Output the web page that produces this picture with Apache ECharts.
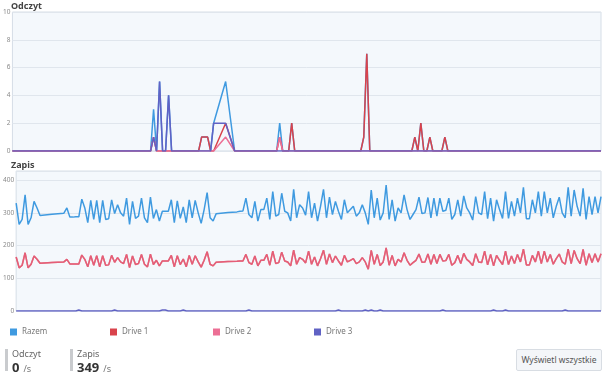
<!DOCTYPE html>
<html>
<head>
<meta charset="utf-8">
<script src="https://cdn.jsdelivr.net/npm/echarts@6/dist/echarts.min.js"></script>
<style>
  html, body { margin: 0; padding: 0; background: #fff; }
  body { width: 605px; height: 376px; position: relative; overflow: hidden; font-family: 'Noto Sans', sans-serif; }
  #chart { position: absolute; left: 0; top: 0; width: 605px; height: 376px; }
  .bar { position: absolute; top: 349px; width: 3px; height: 22px; background: #c9cbce; }
  .lbl { position: absolute; top: 347px; font-size: 9px; color: #666; }
  .val { position: absolute; top: 358px; font-size: 13px; font-weight: bold; color: #333; white-space: nowrap; }
  .val span { font-size: 9px; font-weight: normal; color: #777; margin-left: 4px; }
  .btn { position: absolute; left: 516px; top: 349px; width: 84px; height: 20px; border: 1px solid #d8dde3; border-radius: 2px;
         background: #f4f6f9; font-size: 8.5px; color: #555; text-align: center; line-height: 20px; }
</style>
</head>
<body>
<div id="chart"></div>
<div class="bar" style="left:5px"></div>
<div class="lbl" style="left:12px">Odczyt</div>
<div class="val" style="left:12px">0<span>/s</span></div>
<div class="bar" style="left:70px"></div>
<div class="lbl" style="left:77px">Zapis</div>
<div class="val" style="left:77px">349<span>/s</span></div>
<div class="btn">Wyświetl wszystkie</div>
<script>
// Odczyt / Zapis na dysk (Razem + Drive 1..3)
// null = brak próbki (linia łączona przez connectNulls)

const nazwySerii = ['Razem', 'Drive 1', 'Drive 2', 'Drive 3'];
const kolory = ['#3f9ae0', '#d9434c', '#ec6f95', '#6062c4'];

// odczyt
const razemOdczyt = [
  0,0,0,0,0,0,0,0,0,null, null,null,0,null,null,null,0,0,0,0,
  0,0,0,0,0,0,0,0,0,0, 0,0,0,0,0,0,0,0,0,0,
  0,0,0,0,0,0,0,3,0,5, 0,0,4,0,0,0,0,0,0,0,
  0,0,0,1,1,1,0,2,null,null, null,5,null,null,0,0,0,0,0,0,
  0,0,0,0,0,0,0,0,0,2, 0,0,0,2,0,0,0,0,0,0,
  0,0,0,0,0,0,0,0,0,0, 0,0,0,0,0,0,0,1,7,0,
  0,0,0,0,0,0,0,0,0,0, 0,0,0,0,1,0,2,0,0,1,
  0,0,0,0,1,0,0,0,0,0, 0,0,0,0,0,0,0,0,0,0,
  0,0,0,0,0,0,0,0,0,0, 0,0,0,0,0,0,0,0,0,0,
  0,0,0,0,0,0,0,0,0,0, 0,0,0,0,0,0,0
];
const drive1Odczyt = [
  0,0,0,0,0,0,0,0,0,null, null,null,0,null,null,null,0,0,0,0,
  0,0,0,0,0,0,0,0,0,0, 0,0,0,0,0,0,0,0,0,0,
  0,0,0,0,0,0,0,1,0,0, 0,0,0,0,0,0,0,0,0,0,
  0,0,0,1,1,1,0,0,null,null, null,2,null,null,0,0,0,0,0,0,
  0,0,0,0,0,0,0,0,0,1, 0,0,0,2,0,0,0,0,0,0,
  0,0,0,0,0,0,0,0,0,0, 0,0,0,0,0,0,0,1,7,0,
  0,0,0,0,0,0,0,0,0,0, 0,0,0,0,1,0,2,0,0,1,
  0,0,0,0,1,0,0,0,0,0, 0,0,0,0,0,0,0,0,0,0,
  0,0,0,0,0,0,0,0,0,0, 0,0,0,0,0,0,0,0,0,0,
  0,0,0,0,0,0,0,0,0,0, 0,0,0,0,0,0,0
];
const drive2Odczyt = [
  0,0,0,0,0,0,0,0,0,null, null,null,0,null,null,null,0,0,0,0,
  0,0,0,0,0,0,0,0,0,0, 0,0,0,0,0,0,0,0,0,0,
  0,0,0,0,0,0,0,1,0,0, 0,0,0,0,0,0,0,0,0,0,
  0,0,0,0,0,0,0,0,null,null, null,1,null,null,0,0,0,0,0,0,
  0,0,0,0,0,0,0,0,0,1, 0,0,0,0,0,0,0,0,0,0,
  0,0,0,0,0,0,0,0,0,0, 0,0,0,0,0,0,0,0,0,0,
  0,0,0,0,0,0,0,0,0,0, 0,0,0,0,0,0,0,0,0,0,
  0,0,0,0,0,0,0,0,0,0, 0,0,0,0,0,0,0,0,0,0,
  0,0,0,0,0,0,0,0,0,0, 0,0,0,0,0,0,0,0,0,0,
  0,0,0,0,0,0,0,0,0,0, 0,0,0,0,0,0,0
];
const drive3Odczyt = [
  0,0,0,0,0,0,0,0,0,null, null,null,0,null,null,null,0,0,0,0,
  0,0,0,0,0,0,0,0,0,0, 0,0,0,0,0,0,0,0,0,0,
  0,0,0,0,0,0,0,1,0,5, 0,0,4,0,0,0,0,0,0,0,
  0,0,0,0,0,0,0,2,null,null, null,2,null,null,0,0,0,0,0,0,
  0,0,0,0,0,0,0,0,0,0, 0,0,0,0,0,0,0,0,0,0,
  0,0,0,0,0,0,0,0,0,0, 0,0,0,0,0,0,0,0,0,0,
  0,0,0,0,0,0,0,0,0,0, 0,0,0,0,0,0,0,0,0,0,
  0,0,0,0,0,0,0,0,0,0, 0,0,0,0,0,0,0,0,0,0,
  0,0,0,0,0,0,0,0,0,0, 0,0,0,0,0,0,0,0,0,0,
  0,0,0,0,0,0,0,0,0,0, 0,0,0,0,0,0,0
];

// zapis
const razemZapis = [
  330,265,280,355,265,285,335,315,292,null, null,null,296,null,null,null,299,315,287,287,
  288,288,342,315,270,338,280,338,270,338, 280,282,340,298,325,300,290,345,265,335,
  283,290,345,285,270,348,283,310,275,305, 305,305,340,270,337,283,318,270,340,285,
  338,300,268,310,362,285,275,297,null,null, null,301,null,null,303,305,306,345,295,285,
  335,275,310,310,345,280,365,290,295,360, 305,300,275,372,285,325,315,293,365,285,
  330,275,320,372,285,348,295,335,305,280, 340,300,310,320,290,300,325,300,265,370,
  285,345,278,300,385,280,340,275,315,300, 355,310,280,295,310,348,298,300,347,285,
  345,290,345,305,308,345,280,295,340,290, 352,315,300,278,350,300,295,365,282,345,
  275,340,310,283,365,283,335,290,345,300, 378,282,282,340,300,365,290,365,300,345,
  285,320,348,300,285,378,290,370,320,290, 375,280,350,295,350,300,350
];
const drive1Zapis = [
  165,132,140,178,132,143,168,158,146,null, null,null,148,null,null,null,150,158,144,144,
  144,144,171,158,135,169,140,169,135,169, 140,141,170,149,163,150,145,173,133,168,
  142,145,173,143,135,174,142,155,138,153, 153,153,170,135,169,142,159,135,170,143,
  169,150,134,155,181,143,138,149,null,null, null,151,null,null,152,153,153,173,148,143,
  168,138,155,155,173,140,183,145,148,180, 153,150,138,186,143,163,158,147,183,143,
  165,138,160,186,143,174,148,168,153,140, 170,150,155,160,145,150,163,150,128,185,
  143,173,139,150,193,140,170,138,158,150, 178,155,140,148,155,174,149,150,174,143,
  173,145,173,153,154,173,140,148,170,145, 176,158,150,139,175,150,148,183,141,173,
  138,170,155,142,183,142,168,145,173,150, 189,141,141,170,150,183,145,183,150,173,
  143,160,174,150,143,189,145,185,160,145, 188,140,175,148,175,150,175
];
const drive2Zapis = [
  165,132,140,178,132,143,168,158,146,null, null,null,148,null,null,null,150,158,144,144,
  144,144,171,158,135,169,140,169,135,169, 140,141,170,149,163,150,145,173,133,168,
  142,145,173,143,135,174,142,155,138,153, 153,153,170,135,169,142,159,135,170,143,
  169,150,134,155,181,143,138,149,null,null, null,151,null,null,152,153,153,173,148,143,
  168,138,155,155,173,140,183,145,148,180, 153,150,138,186,143,163,158,147,183,143,
  165,138,160,186,143,174,148,168,153,140, 170,150,155,160,145,150,163,150,128,185,
  143,173,139,150,193,140,170,138,158,150, 178,155,140,148,155,174,149,150,174,143,
  173,145,173,153,154,173,140,148,170,145, 176,158,150,139,175,150,148,183,141,173,
  138,170,155,142,183,142,168,145,173,150, 189,141,141,170,150,183,145,183,150,173,
  143,160,174,150,143,189,145,185,160,145, 188,140,175,148,175,150,175
];
const drive3Zapis = [
  0,0,0,0,0,0,0,0,0,null, null,null,0,null,null,null,0,0,0,0,
  0,3,0,0,0,0,0,0,0,0, 0,0,0,3,0,0,0,0,0,0,
  0,0,0,0,0,0,0,0,0,3, 3,0,0,0,0,0,3,0,0,0,
  0,0,0,0,0,0,0,0,null,null, null,0,null,null,0,0,0,0,3,0,
  0,0,0,0,0,0,0,0,0,0, 0,0,0,0,0,0,0,0,0,0,
  0,0,0,0,0,0,0,0,3,0, 0,0,0,0,0,0,0,3,0,3,
  0,0,3,0,0,0,0,0,0,0, 0,0,0,0,0,0,0,0,0,0,
  0,0,0,3,0,0,0,0,0,0, 0,0,0,0,0,0,0,0,0,0,
  3,0,0,0,3,0,0,0,0,0, 0,0,0,0,0,0,0,0,0,0,
  0,0,0,0,3,0,0,0,0,0, 0,0,0,0,0,0,0
];

// oś X: kolejne próbki
const probki = razemZapis.map((_, i) => i);

const odczyt = [razemOdczyt, drive1Odczyt, drive2Odczyt, drive3Odczyt];
const zapis = [razemZapis, drive1Zapis, drive2Zapis, drive3Zapis];

const chart = echarts.init(document.getElementById('chart'));

function seria(name, idx, data, grid, opacity) {
  return {
    name: name,
    type: 'line',
    xAxisIndex: grid,
    yAxisIndex: grid,
    data: data,
    symbol: 'none',
    connectNulls: true,
    animation: false,
    itemStyle: { color: kolory[idx] },
    lineStyle: { color: kolory[idx], width: 1.5, opacity: opacity },
    emphasis: { disabled: true }
  };
}

const series = [];
nazwySerii.forEach((n, i) => series.push(seria(n, i, odczyt[i], 0, 1)));
nazwySerii.forEach((n, i) => series.push(seria(n, i, zapis[i], 1, i === 2 ? 0.6 : 1)));

// legenda: osobny komponent na każdą pozycję (stały odstęp ~101px)
const legendX = [5, 105, 208, 309];
const legend = nazwySerii.map((n, i) => ({
  data: [n],
  left: legendX[i], top: 323,
  icon: 'rect', itemWidth: 7, itemHeight: 7, itemTextGap: 7,
  selectedMode: false,
  textStyle: { fontSize: 8, color: '#777' }
}));

const gridStyle = { show: true, backgroundColor: '#f4f8fc', borderColor: '#d6dee7', borderWidth: 1 };
const xAxisCommon = {
  type: 'category', data: probki, boundaryGap: false,
  axisLine: { show: false }, axisTick: { show: false }, axisLabel: { show: false }, splitLine: { show: false }
};
const yAxisCommon = {
  type: 'value', min: 0,
  axisLine: { show: false }, axisTick: { show: false },
  splitLine: { lineStyle: { color: '#e0e6ed', width: 1 } }
};

chart.setOption({
  textStyle: { fontFamily: 'Noto Sans, sans-serif' },
  title: [
    { text: 'Odczyt', left: 11, top: 2, padding: 0, textStyle: { fontSize: 9, fontWeight: 'bold', color: '#444' } },
    { text: 'Zapis', left: 11, top: 161, padding: 0, textStyle: { fontSize: 9, fontWeight: 'bold', color: '#444' } }
  ],
  legend: legend,
  grid: [
    Object.assign({ left: 12, right: 4, top: 12, height: 139 }, gridStyle),
    Object.assign({ left: 12, right: 4, top: 171, height: 140 }, gridStyle)
  ],
  xAxis: [
    Object.assign({ gridIndex: 0 }, xAxisCommon),
    Object.assign({ gridIndex: 1 }, xAxisCommon)
  ],
  yAxis: [
    Object.assign({ gridIndex: 0, max: 10, interval: 2,
      axisLabel: { fontSize: 6.5, color: '#8a8a8a', margin: 2 } }, yAxisCommon),
    Object.assign({ gridIndex: 1, max: 428, interval: 100,
      axisLabel: { fontSize: 6.5, color: '#8a8a8a', margin: 2,
        formatter: v => (v % 100 === 0 ? String(v) : '') } }, yAxisCommon)
  ],
  series: series
});
</script>
</body>
</html>
